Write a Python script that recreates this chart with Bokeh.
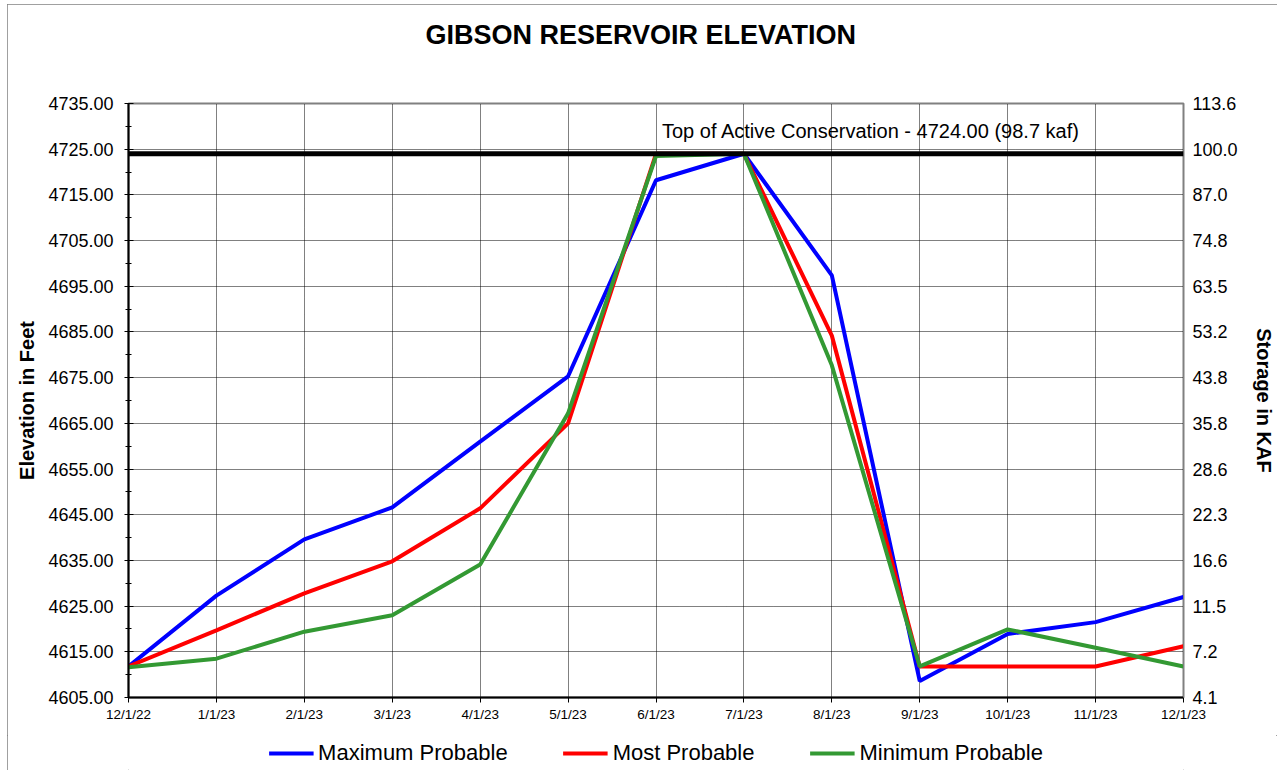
from bokeh.plotting import figure
from bokeh.layouts import column
from bokeh.models import (Range1d, LinearAxis, FixedTicker, Span, Label, Legend,
                          LegendItem, NumeralTickFormatter, Title)
from bokeh.embed import file_html
from bokeh.resources import INLINE

# ---------------- data ----------------
dates = ["12/1/22", "1/1/23", "2/1/23", "3/1/23", "4/1/23", "5/1/23", "6/1/23",
         "7/1/23", "8/1/23", "9/1/23", "10/1/23", "11/1/23", "12/1/23"]
max_probable = [4611.8, 4627.3, 4639.6, 4646.6, 4661.0, 4675.3, 4718.2,
                4724.0, 4697.4, 4608.6, 4618.9, 4621.5, 4627.0]
most_probable = [4611.8, 4619.7, 4627.8, 4634.8, 4646.4, 4665.0, 4724.0,
                 4724.0, 4684.2, 4611.8, 4611.8, 4611.8, 4616.2]
min_probable = [4611.6, 4613.5, 4619.4, 4623.0, 4634.1, 4667.2, 4723.5,
                4724.0, 4677.7, 4611.8, 4619.9, 4615.9, 4611.8]
elev_ticks = [4605, 4615, 4625, 4635, 4645, 4655, 4665, 4675, 4685, 4695,
              4705, 4715, 4725, 4735]
elev_minor = [4610, 4620, 4630, 4640, 4650, 4660, 4670, 4680, 4690, 4700,
              4710, 4720, 4730]
storage_labels = ["4.1", "7.2", "11.5", "16.6", "22.3", "28.6", "35.8", "43.8",
                  "53.2", "63.5", "74.8", "87.0", "100.0", "113.6"]
top_conservation = 4724.0
top_label = "Top of Active Conservation - 4724.00 (98.7 kaf)"
series_names = ["Maximum Probable", "Most Probable", "Minimum Probable"]
series_colors = ["#0000FF", "#FF0000", "#339933"]

FONT = "Liberation Sans"
x_idx = list(range(len(dates)))
series_values = [max_probable, most_probable, min_probable]

p = figure(width=1270, height=731, output_backend="svg", toolbar_location=None,
           x_range=Range1d(0, len(dates) - 1), y_range=Range1d(elev_ticks[0], elev_ticks[-1]),
           min_border_left=121, min_border_right=94, min_border_top=99,
           min_border_bottom=38, background_fill_color="white",
           border_fill_color="white")
p.title = None
p.outline_line_color = "#808080"
p.outline_line_width = 2

# title (spacer nearest the frame, then the real title)
p.add_layout(Title(text=" ", text_font_size="10px", standoff=41), "above")
p.add_layout(Title(text="GIBSON RESERVOIR ELEVATION", align="left", offset=297,
                   standoff=0, vertical_align="bottom", text_font=FONT,
                   text_font_size="27px", text_font_style="bold",
                   text_color="black"), "above")

# x axis
xa = p.xaxis[0]
xa.ticker = FixedTicker(ticks=x_idx)
xa.major_label_overrides = {i: d for i, d in zip(x_idx, dates)}
xa.major_label_text_font = FONT
xa.major_label_text_font_size = "13.5px"
xa.major_label_text_color = "black"
xa.major_label_standoff = 4
xa.axis_line_color = "black"
xa.axis_line_width = 2
xa.major_tick_out = 5
xa.major_tick_in = 0
xa.major_tick_line_color = "black"
xa.minor_tick_line_color = None

# left axis
ya = p.yaxis[0]
ya.ticker = FixedTicker(ticks=elev_ticks, minor_ticks=elev_minor)
ya.formatter = NumeralTickFormatter(format="0.00")
ya.major_label_text_font = FONT
ya.major_label_text_font_size = "18px"
ya.major_label_text_color = "black"
ya.major_label_standoff = 11
ya.axis_line_color = "black"
ya.axis_line_width = 2
ya.major_tick_out = 4
ya.major_tick_in = 5
ya.minor_tick_out = 3
ya.minor_tick_in = 3
ya.major_tick_line_color = "black"
ya.minor_tick_line_color = "black"
ya.axis_label = "Elevation in Feet"
ya.axis_label_text_font = FONT
ya.axis_label_text_font_size = "20px"
ya.axis_label_text_font_style = "bold"
ya.axis_label_text_color = "black"
ya.axis_label_standoff = 7

# right axis (storage)
ra = LinearAxis(ticker=FixedTicker(ticks=elev_ticks),
                major_label_overrides={t: s for t, s in zip(elev_ticks, storage_labels)})
ra.major_label_text_font = FONT
ra.major_label_text_font_size = "18px"
ra.major_label_text_color = "black"
ra.major_label_standoff = 9
ra.major_tick_out = 0
ra.major_tick_in = 0
ra.minor_tick_line_color = None
ra.axis_line_color = "#808080"
ra.axis_label = "Storage in KAF"
ra.axis_label_text_font = FONT
ra.axis_label_text_font_size = "20px"
ra.axis_label_text_font_style = "bold"
ra.axis_label_text_color = "black"
ra.axis_label_standoff = 12
p.add_layout(ra, "right")

# grids
p.xgrid.ticker = FixedTicker(ticks=x_idx)
p.ygrid.ticker = FixedTicker(ticks=elev_ticks)
for g in (p.xgrid[0], p.ygrid[0]):
    g.grid_line_color = "black"
    g.grid_line_dash = "1 1"
    g.grid_line_width = 1
    g.grid_line_alpha = 1.0

# series
for vals, col in zip(series_values, series_colors):
    p.line(x_idx, vals, line_color=col, line_width=4)

# top of active conservation
p.add_layout(Span(location=top_conservation, dimension="width", line_color="black",
                  line_width=5))
p.add_layout(Label(x=6, y=top_conservation, x_offset=6, y_offset=23, text=top_label,
                   text_font=FONT, text_font_size="20px", text_color="black",
                   text_baseline="alphabetic"))

# legend strip below the chart (same series, drawn out of view so only the key shows)
lg = figure(width=1270, height=35, output_backend="svg", toolbar_location=None,
            x_axis_location=None, y_axis_location=None,
            x_range=Range1d(0, 1), y_range=Range1d(0, 1),
            min_border_left=27, min_border_right=0, min_border_top=0,
            min_border_bottom=0, background_fill_color="white",
            border_fill_color="white")
lg.title = None
lg.outline_line_color = None
lg.xgrid.visible = False
lg.ygrid.visible = False
proxies = [lg.line(x_idx, vals, line_color=c, line_width=4)
           for vals, c in zip(series_values, series_colors)]
legend = Legend(items=[LegendItem(label=n, renderers=[r]) for n, r in zip(series_names, proxies)],
                orientation="horizontal", location="center", glyph_width=45,
                glyph_height=24, label_height=24, label_standoff=5, spacing=55,
                padding=0, margin=0, border_line_alpha=0, background_fill_alpha=0,
                label_text_font=FONT, label_text_font_size="22px",
                label_text_color="black")
lg.add_layout(legend)

layout = column(p, lg, spacing=0)
layout.styles = {"margin-left": "7px", "margin-top": "4px",
                 "outline": "1px solid #808080", "outline-offset": "-1px"}

open("out.html", "w").write(file_html(layout, INLINE))
